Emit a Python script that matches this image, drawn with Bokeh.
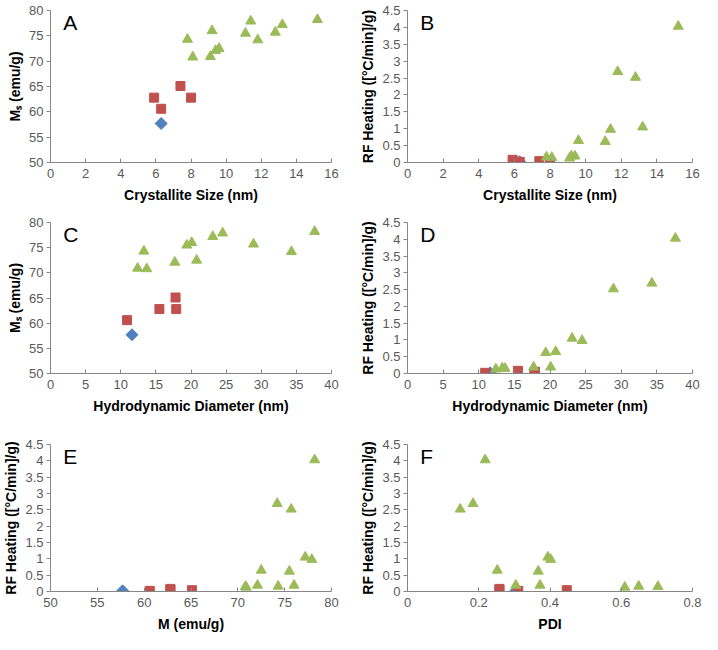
import math
from bokeh.plotting import figure
from bokeh.layouts import gridplot
from bokeh.models import FixedTicker, Label, CustomJSTickFormatter, Range1d
from bokeh.embed import file_html
from bokeh.resources import INLINE

# ---- data (one entry per sample) ----
blue_cs = [6.3]
blue_hd = [11.6]
blue_ms = [57.7]
blue_rf = [0.02]
blue_pdi = [0.304]

red_cs = [5.9, 6.3, 7.4, 8.0]
red_hd = [15.5, 10.9, 17.8, 17.9]
red_ms = [62.8, 60.6, 65.1, 62.8]
red_rf = [0.08, 0.02, 0.04, 0.05]
red_pdi = [0.258, 0.311, 0.447, 0.258]

green_cs = [15.2, 11.8, 12.8, 13.2, 11.4, 9.6, 11.1, 9.1, 9.4, 7.8, 9.2, 8.1]
green_hd = [37.6, 34.3, 28.9, 23.1, 24.5, 20.8, 19.4, 12.4, 17.7, 13.3, 20.1, 13.7]
green_ms = [78.2, 74.2, 75.7, 77.2, 77.9, 72.5, 75.5, 70.9, 72.1, 74.3, 76.0, 70.8]
green_rf = [4.03, 2.69, 2.52, 1.05, 0.98, 0.65, 0.62, 0.13, 0.19, 0.16, 0.19, 0.15]
green_pdi = [0.218, 0.184, 0.148, 0.394, 0.402, 0.252, 0.367, 0.61, 0.372, 0.649, 0.304, 0.703]

# ---- axis ticks ----
cs_ticks = [0, 2, 4, 6, 8, 10, 12, 14, 16]
hd_ticks = [0, 5, 10, 15, 20, 25, 30, 35, 40]
ms_ticks = [50, 55, 60, 65, 70, 75, 80]
rf_ticks = [0, 0.5, 1, 1.5, 2, 2.5, 3, 3.5, 4, 4.5]
pdi_ticks = [0, 0.2, 0.4, 0.6, 0.8]

CS_LABEL = "Crystallite Size (nm)"
HD_LABEL = "Hydrodynamic Diameter (nm)"
MS_LABEL = "M\u209b (emu/g)"
RF_LABEL = "RF Heating ([\u00b0C/min]/g)"
M_LABEL = "M (emu/g)"
PDI_LABEL = "PDI"

data = {
    "cs": (blue_cs, red_cs, green_cs),
    "hd": (blue_hd, red_hd, green_hd),
    "ms": (blue_ms, red_ms, green_ms),
    "rf": (blue_rf, red_rf, green_rf),
    "pdi": (blue_pdi, red_pdi, green_pdi),
}

BLUE = "#4F81BD"
RED = "#C0504D"
GREEN = "#9BBB59"
AXIS_COL = "#868686"
TICK_TXT = "#595959"
FONT = "Liberation Sans"

fmt = CustomJSTickFormatter(code="return String(parseFloat(tick.toFixed(3)));")


def panel(letter, xkey, ykey, xticks, yticks, xlabel, ylabel, w, h, borders):
    left, right, top, bottom = borders
    p = figure(width=w, height=h, output_backend="svg", toolbar_location=None,
               x_range=Range1d(xticks[0], xticks[-1]), y_range=Range1d(yticks[0], yticks[-1]),
               min_border_left=left, min_border_right=right,
               min_border_top=top, min_border_bottom=bottom)
    p.outline_line_color = None
    p.xgrid.visible = False
    p.ygrid.visible = False
    p.background_fill_color = "white"
    p.border_fill_color = "white"

    p.xaxis.ticker = FixedTicker(ticks=xticks)
    p.yaxis.ticker = FixedTicker(ticks=yticks)
    p.xaxis.formatter = fmt
    p.yaxis.formatter = fmt
    for ax in (p.xaxis, p.yaxis):
        ax.axis_line_color = AXIS_COL
        ax.major_tick_line_color = AXIS_COL
        ax.minor_tick_line_color = None
        ax.major_label_text_font = FONT
        ax.major_label_text_font_size = "13px"
        ax.major_label_text_color = TICK_TXT
        ax.axis_label_text_font = FONT
        ax.axis_label_text_font_size = "14px"
        ax.axis_label_text_font_style = "bold"
        ax.axis_label_text_color = "black"
    p.xaxis.major_tick_in = 4
    p.xaxis.major_tick_out = 0
    p.yaxis.major_tick_in = 0
    p.yaxis.major_tick_out = 4
    p.xaxis.major_label_standoff = 6
    p.yaxis.major_label_standoff = 3
    p.xaxis.axis_label_standoff = 6
    p.yaxis.axis_label_standoff = 3
    p.xaxis.axis_label = xlabel
    p.yaxis.axis_label = ylabel

    bx, rx, gx = data[xkey]
    by, ry, gy = data[ykey]
    p.scatter(bx, by, marker="square", angle=math.pi / 4, size=8.5,
              fill_color=BLUE, line_color=BLUE)
    p.scatter(rx, ry, marker="square", size=9, fill_color=RED, line_color=RED)
    p.scatter(gx, gy, marker="triangle", size=10, fill_color=GREEN, line_color=GREEN)

    x0, x1 = xticks[0], xticks[-1]
    y0, y1 = yticks[0], yticks[-1]
    p.add_layout(Label(x=x0 + 0.045 * (x1 - x0), y=y1 - 0.005 * (y1 - y0), text=letter,
                       text_font=FONT, text_font_size="21px", text_baseline="top",
                       text_align="left", text_color="black"))
    return p


pa = panel("A", "cs", "ms", cs_ticks, ms_ticks, CS_LABEL, MS_LABEL, 351, 205, (34, 20, 10, 40))
pb = panel("B", "cs", "rf", cs_ticks, rf_ticks, CS_LABEL, RF_LABEL, 351, 205, (56, 10, 10, 40))
pc = panel("C", "hd", "ms", hd_ticks, ms_ticks, HD_LABEL, MS_LABEL, 351, 211, (34, 20, 17, 38))
pd = panel("D", "hd", "rf", hd_ticks, rf_ticks, HD_LABEL, RF_LABEL, 351, 211, (56, 10, 17, 38))
pe = panel("E", "ms", "rf", ms_ticks, rf_ticks, M_LABEL, RF_LABEL, 351, 218, (38, 20, 28, 37))
pf = panel("F", "pdi", "rf", pdi_ticks, rf_ticks, PDI_LABEL, RF_LABEL, 351, 218, (56, 10, 28, 37))

grid = gridplot([[pa, pb], [pc, pd], [pe, pf]], toolbar_location=None)

open("out.html", "w").write(file_html(grid, INLINE))
